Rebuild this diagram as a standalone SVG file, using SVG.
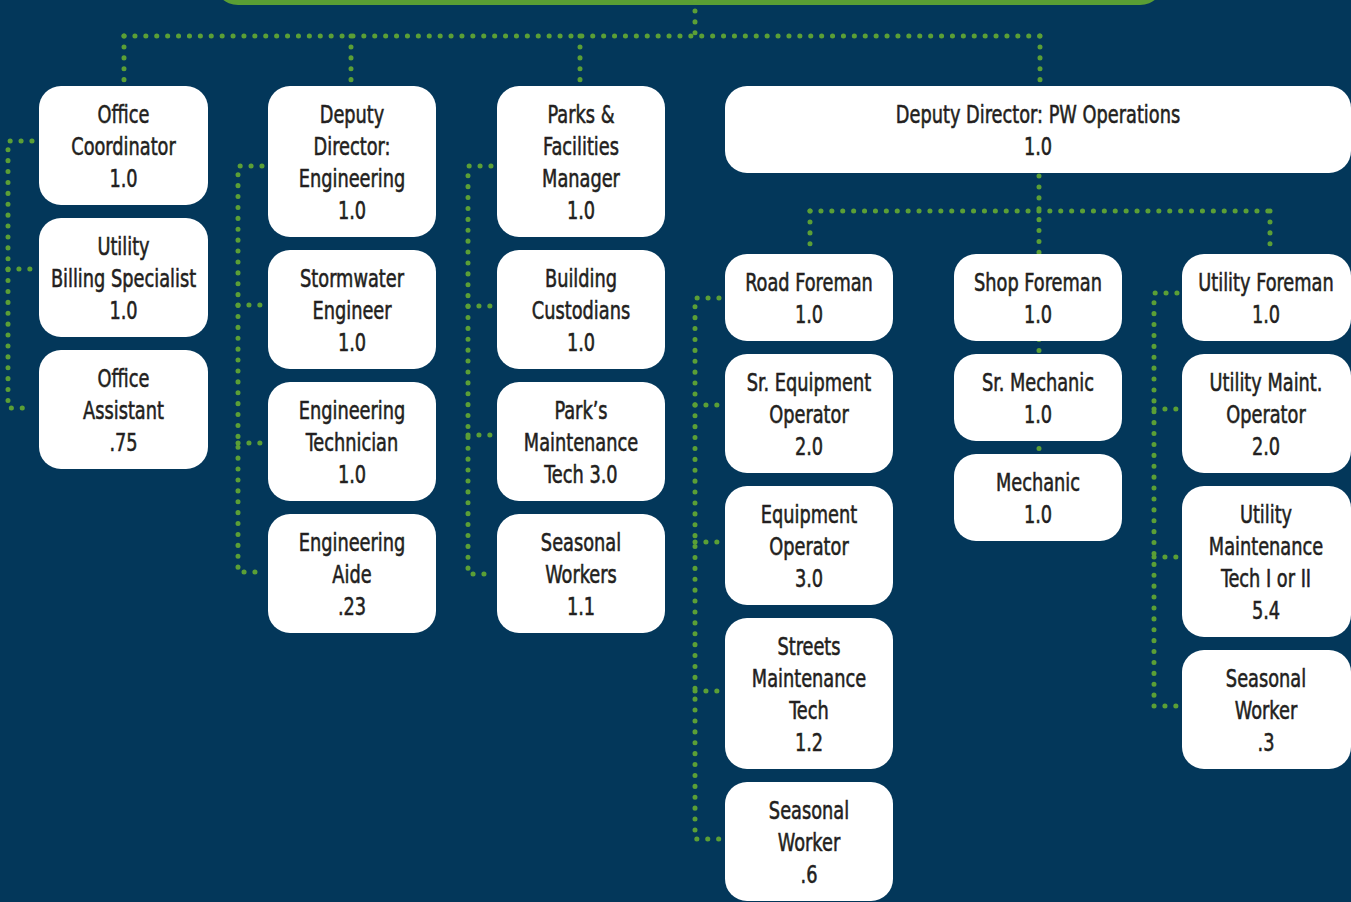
<svg xmlns="http://www.w3.org/2000/svg" width="1351" height="902" viewBox="0 0 1351 902">
<style>
.bg{fill:#03375a}
.box{fill:#ffffff}
.t{font-family:"DejaVu Sans Condensed","DejaVu Sans",sans-serif;font-stretch:condensed;font-size:25px;fill:#231f20;stroke:#231f20;stroke-width:0.55;text-anchor:middle}
.dot{fill:none;stroke:#5b9f36;stroke-width:5;stroke-linecap:round;stroke-dasharray:0.1 10.8}
</style>
<rect class="bg" x="0" y="0" width="1351" height="902"/>
<rect id="top-bar" x="214" y="-60" width="950" height="65" rx="24" fill="#5a9e34"/>
<g id="connectors">
<path class="dot" d="M695 0 V36"/>
<path class="dot" d="M124 36 H1040"/>
<path class="dot" d="M124 36 V80"/>
<path class="dot" d="M351 36 V80"/>
<path class="dot" d="M580 36 V80"/>
<path class="dot" d="M1040 36 V80"/>
<path class="dot" d="M32 141 H8 V408 H32"/>
<path class="dot" d="M8 269 H32"/>
<path class="dot" d="M262 166 H238 V572 H262"/>
<path class="dot" d="M238 305 H262"/>
<path class="dot" d="M238 443 H262"/>
<path class="dot" d="M491 166 H468 V574 H491"/>
<path class="dot" d="M468 306 H491"/>
<path class="dot" d="M468 435 H491"/>
<path class="dot" d="M1039 176 V454"/>
<path class="dot" d="M810 211 H1270"/>
<path class="dot" d="M810 211 V250"/>
<path class="dot" d="M1270 211 V250"/>
<path class="dot" d="M719 298 H695 V839 H719"/>
<path class="dot" d="M695 405 H719"/>
<path class="dot" d="M695 542 H719"/>
<path class="dot" d="M695 691 H719"/>
<path class="dot" d="M1177 293 H1154 V706 H1177"/>
<path class="dot" d="M1154 409 H1177"/>
<path class="dot" d="M1154 557 H1177"/>
</g>
<g id="office-coordinator"><rect class="box" x="39" y="86" width="169" height="119" rx="22"/><text class="t" transform="translate(123.5 0) scale(0.79 1)"><tspan x="0" y="123">Office</tspan><tspan x="0" y="155">Coordinator</tspan><tspan x="0" y="187">1.0</tspan></text></g>
<g id="utility-billing"><rect class="box" x="39" y="218" width="169" height="119" rx="22"/><text class="t" transform="translate(123.5 0) scale(0.79 1)"><tspan x="0" y="255">Utility</tspan><tspan x="0" y="287">Billing Specialist</tspan><tspan x="0" y="319">1.0</tspan></text></g>
<g id="office-assistant"><rect class="box" x="39" y="350" width="169" height="119" rx="22"/><text class="t" transform="translate(123.5 0) scale(0.79 1)"><tspan x="0" y="387">Office</tspan><tspan x="0" y="419">Assistant</tspan><tspan x="0" y="451">.75</tspan></text></g>

<g id="deputy-engineering"><rect class="box" x="268" y="86" width="168" height="151" rx="22"/><text class="t" transform="translate(352 0) scale(0.79 1)"><tspan x="0" y="123">Deputy</tspan><tspan x="0" y="155">Director:</tspan><tspan x="0" y="187">Engineering</tspan><tspan x="0" y="219">1.0</tspan></text></g>
<g id="stormwater-engineer"><rect class="box" x="268" y="250" width="168" height="119" rx="22"/><text class="t" transform="translate(352 0) scale(0.79 1)"><tspan x="0" y="287">Stormwater</tspan><tspan x="0" y="319">Engineer</tspan><tspan x="0" y="351">1.0</tspan></text></g>
<g id="engineering-technician"><rect class="box" x="268" y="382" width="168" height="119" rx="22"/><text class="t" transform="translate(352 0) scale(0.79 1)"><tspan x="0" y="419">Engineering</tspan><tspan x="0" y="451">Technician</tspan><tspan x="0" y="483">1.0</tspan></text></g>
<g id="engineering-aide"><rect class="box" x="268" y="514" width="168" height="119" rx="22"/><text class="t" transform="translate(352 0) scale(0.79 1)"><tspan x="0" y="551">Engineering</tspan><tspan x="0" y="583">Aide</tspan><tspan x="0" y="615">.23</tspan></text></g>

<g id="parks-manager"><rect class="box" x="497" y="86" width="168" height="151" rx="22"/><text class="t" transform="translate(581 0) scale(0.79 1)"><tspan x="0" y="123">Parks &amp;</tspan><tspan x="0" y="155">Facilities</tspan><tspan x="0" y="187">Manager</tspan><tspan x="0" y="219">1.0</tspan></text></g>
<g id="building-custodians"><rect class="box" x="497" y="250" width="168" height="119" rx="22"/><text class="t" transform="translate(581 0) scale(0.79 1)"><tspan x="0" y="287">Building</tspan><tspan x="0" y="319">Custodians</tspan><tspan x="0" y="351">1.0</tspan></text></g>
<g id="parks-maintenance"><rect class="box" x="497" y="382" width="168" height="119" rx="22"/><text class="t" transform="translate(581 0) scale(0.79 1)"><tspan x="0" y="419">Park’s</tspan><tspan x="0" y="451">Maintenance</tspan><tspan x="0" y="483">Tech 3.0</tspan></text></g>
<g id="seasonal-workers"><rect class="box" x="497" y="514" width="168" height="119" rx="22"/><text class="t" transform="translate(581 0) scale(0.79 1)"><tspan x="0" y="551">Seasonal</tspan><tspan x="0" y="583">Workers</tspan><tspan x="0" y="615">1.1</tspan></text></g>

<g id="deputy-pw-operations"><rect class="box" x="725" y="86" width="626" height="87" rx="22"/><text class="t" transform="translate(1038 0) scale(0.79 1)"><tspan x="0" y="123">Deputy Director: PW Operations</tspan><tspan x="0" y="155">1.0</tspan></text></g>

<g id="road-foreman"><rect class="box" x="725" y="254" width="168" height="87" rx="22"/><text class="t" transform="translate(809 0) scale(0.79 1)"><tspan x="0" y="291">Road Foreman</tspan><tspan x="0" y="323">1.0</tspan></text></g>
<g id="sr-equipment-operator"><rect class="box" x="725" y="354" width="168" height="119" rx="22"/><text class="t" transform="translate(809 0) scale(0.79 1)"><tspan x="0" y="391">Sr. Equipment</tspan><tspan x="0" y="423">Operator</tspan><tspan x="0" y="455">2.0</tspan></text></g>
<g id="equipment-operator"><rect class="box" x="725" y="486" width="168" height="119" rx="22"/><text class="t" transform="translate(809 0) scale(0.79 1)"><tspan x="0" y="523">Equipment</tspan><tspan x="0" y="555">Operator</tspan><tspan x="0" y="587">3.0</tspan></text></g>
<g id="streets-maintenance"><rect class="box" x="725" y="618" width="168" height="151" rx="22"/><text class="t" transform="translate(809 0) scale(0.79 1)"><tspan x="0" y="655">Streets</tspan><tspan x="0" y="687">Maintenance</tspan><tspan x="0" y="719">Tech</tspan><tspan x="0" y="751">1.2</tspan></text></g>
<g id="seasonal-worker-roads"><rect class="box" x="725" y="782" width="168" height="119" rx="22"/><text class="t" transform="translate(809 0) scale(0.79 1)"><tspan x="0" y="819">Seasonal</tspan><tspan x="0" y="851">Worker</tspan><tspan x="0" y="883">.6</tspan></text></g>

<g id="shop-foreman"><rect class="box" x="954" y="254" width="168" height="87" rx="22"/><text class="t" transform="translate(1038 0) scale(0.79 1)"><tspan x="0" y="291">Shop Foreman</tspan><tspan x="0" y="323">1.0</tspan></text></g>
<g id="sr-mechanic"><rect class="box" x="954" y="354" width="168" height="87" rx="22"/><text class="t" transform="translate(1038 0) scale(0.79 1)"><tspan x="0" y="391">Sr. Mechanic</tspan><tspan x="0" y="423">1.0</tspan></text></g>
<g id="mechanic"><rect class="box" x="954" y="454" width="168" height="87" rx="22"/><text class="t" transform="translate(1038 0) scale(0.79 1)"><tspan x="0" y="491">Mechanic</tspan><tspan x="0" y="523">1.0</tspan></text></g>

<g id="utility-foreman"><rect class="box" x="1182" y="254" width="169" height="87" rx="22"/><text class="t" transform="translate(1266 0) scale(0.79 1)"><tspan x="0" y="291">Utility Foreman</tspan><tspan x="0" y="323">1.0</tspan></text></g>
<g id="utility-maint-operator"><rect class="box" x="1182" y="354" width="169" height="119" rx="22"/><text class="t" transform="translate(1266 0) scale(0.79 1)"><tspan x="0" y="391">Utility Maint.</tspan><tspan x="0" y="423">Operator</tspan><tspan x="0" y="455">2.0</tspan></text></g>
<g id="utility-maintenance-tech"><rect class="box" x="1182" y="486" width="169" height="151" rx="22"/><text class="t" transform="translate(1266 0) scale(0.79 1)"><tspan x="0" y="523">Utility</tspan><tspan x="0" y="555">Maintenance</tspan><tspan x="0" y="587">Tech I or II</tspan><tspan x="0" y="619">5.4</tspan></text></g>
<g id="seasonal-worker-utility"><rect class="box" x="1182" y="650" width="169" height="119" rx="22"/><text class="t" transform="translate(1266 0) scale(0.79 1)"><tspan x="0" y="687">Seasonal</tspan><tspan x="0" y="719">Worker</tspan><tspan x="0" y="751">.3</tspan></text></g>
</svg>
